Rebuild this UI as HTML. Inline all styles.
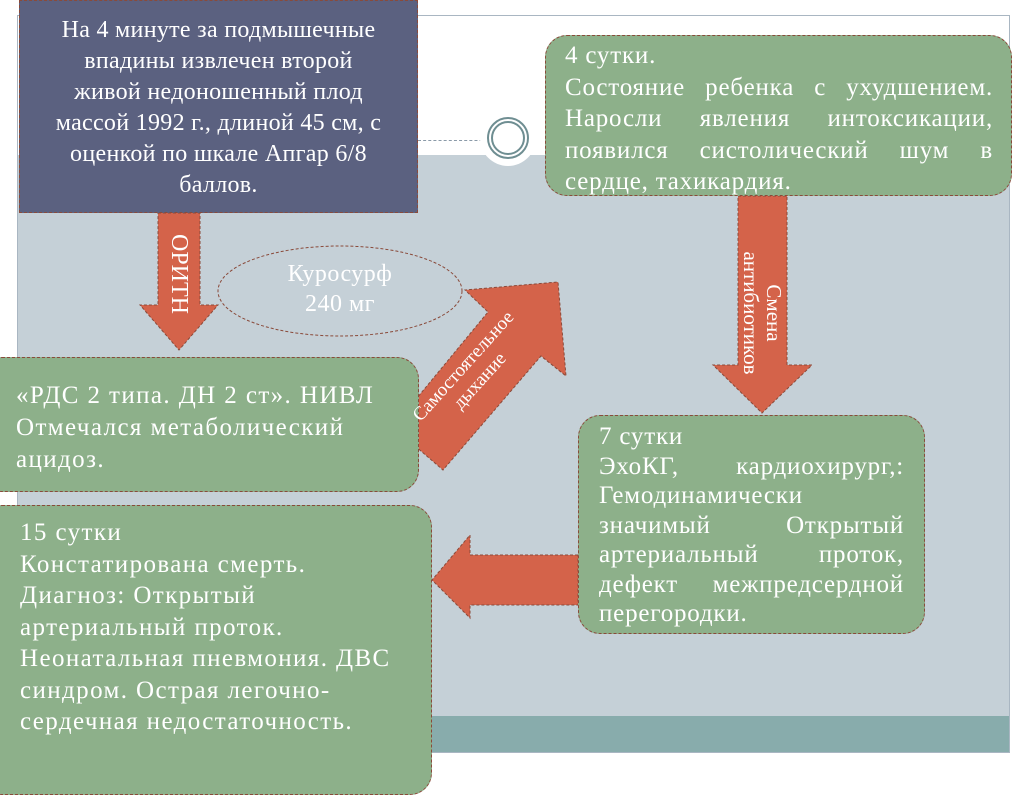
<!DOCTYPE html>
<html><head><meta charset="utf-8"><style>
html,body{margin:0;padding:0;width:1024px;height:767px;overflow:hidden;background:#fff;font-family:"Liberation Serif",serif;}
.a{position:absolute;box-sizing:border-box;}
.g{background:#8db08a;border:1px dashed #8a4a3a;border-radius:22px;color:#fff;font-size:25px;letter-spacing:0.8px;}
.l{white-space:nowrap;}
.j{text-align:justify;text-align-last:justify;white-space:nowrap;}
.w{letter-spacing:1.4px;}
</style></head><body>
<div class="a" style="left:17px;top:15px;width:993px;height:738px;border:1px solid #a9b6c2;background:#fff"></div>
<div class="a" style="left:18px;top:155px;width:991px;height:562px;background:#c5d0d7"></div>
<div class="a" style="left:18px;top:716px;width:991px;height:36px;background:#88acac"></div>
<div class="a" style="left:418px;top:140px;width:80px;border-top:1px dashed #8a9aa8"></div>
<svg class="a" style="left:0;top:0" width="1024" height="767">
<circle cx="508" cy="138" r="28" fill="#fff"/>
<circle cx="508" cy="138" r="20" fill="none" stroke="#6f8e92" stroke-width="2"/>
<circle cx="508" cy="138" r="16" fill="none" stroke="#6f8e92" stroke-width="2"/>
<ellipse cx="340" cy="291" rx="122" ry="45" fill="#c5d0d7" stroke="#8a4a3a" stroke-dasharray="3,2"/>
<g fill="#d4634a" stroke="#8a4a3a" stroke-dasharray="3,2">
<polygon points="158,213 200,213 200,305 218,305 179,350 140,305 158,305"/>
<polygon points="738,196 787,196 787,365 812,365 762,413 713,365 738,365"/>
<polygon points="393,427 488,312 465,290 558,282 566,376 541,356 443,470"/>
<polygon points="578,555 470,555 470,535 432,580 470,618 470,605 578,605"/>
</g>
</svg>
<div class="a" style="left:19px;top:0;width:399px;height:213px;background:#5b6180;border:1px dashed #8a4a3a;color:#fff;font-size:24px;letter-spacing:0.3px;line-height:31px;text-align:center;padding:14px 0 0;white-space:nowrap">На 4 минуте за подмышечные<br>впадины извлечен второй<br>живой недоношенный плод<br>массой 1992 г., длиной 45 см, с<br>оценкой по шкале Апгар 6/8<br>баллов.</div>
<div class="a g" style="left:545px;top:35px;width:467px;height:161px;line-height:31.5px;padding:4px 18px 0 19px">
<div class="l">4 сутки.</div>
<div class="j">Состояние ребенка с ухудшением.</div>
<div class="j">Наросли явления интоксикации,</div>
<div class="j">появился систолический шум в</div>
<div class="l">сердце, тахикардия.</div></div>
<div class="a g w" style="left:-20px;top:357px;width:439px;height:135px;line-height:32px;padding:22px 10px 0 35px">
<div class="l">«РДС 2 типа. ДН 2 ст». НИВЛ</div>
<div class="l">Отмечался метаболический</div>
<div class="l">ацидоз.</div></div>
<div class="a g" style="left:578px;top:415px;width:347px;height:219px;line-height:29.5px;padding:6px 20px 0 20px">
<div class="l">7 сутки</div>
<div class="j">ЭхоКГ, кардиохирург,:</div>
<div class="l">Гемодинамически</div>
<div class="j">значимый Открытый</div>
<div class="j">артериальный проток,</div>
<div class="j">дефект межпредсердной</div>
<div class="l">перегородки.</div></div>
<div class="a g w" style="left:-20px;top:505px;width:452px;height:290px;line-height:31.5px;padding:11px 10px 0 39px">
<div class="l">15 сутки</div>
<div class="l">Констатирована смерть.</div>
<div class="l">Диагноз: Открытый</div>
<div class="l">артериальный проток.</div>
<div class="l">Неонатальная пневмония. ДВС</div>
<div class="l">синдром. Острая легочно-</div>
<div class="l">сердечная недостаточность.</div></div>
<div class="a" style="left:218px;top:259px;width:244px;text-align:center;color:#fff;font-size:24px;line-height:30px;letter-spacing:0.5px">Куросурф<br>240 мг</div>
<div class="a" style="left:119px;top:259px;width:120px;height:30px;text-align:center;color:#fff;font-size:24px;line-height:30px;transform:rotate(90deg)">ОРИТН</div>
<div class="a" style="left:672px;top:290px;width:180px;text-align:center;color:#fff;font-size:21px;line-height:23px;transform:rotate(90deg)">Смена<br>антибиотиков</div>
<div class="a" style="left:392px;top:352px;width:160px;text-align:center;color:#fff;font-size:19px;line-height:22px;transform:rotate(-48deg)">Самостоятельное<br>дыхание</div>
</body></html>
